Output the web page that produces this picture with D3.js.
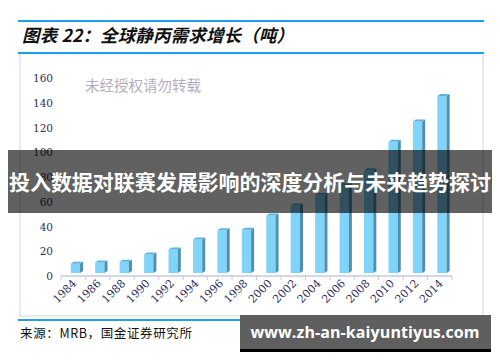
<!DOCTYPE html>
<html>
<head>
<meta charset="utf-8">
<script src="https://cdn.jsdelivr.net/npm/d3@7"></script>
<style>
  body { margin: 0; background: #fff; }
  svg { display: block; }
</style>
</head>
<body>
<script>
// chart data
var years = ["1984","1986","1988","1990","1992","1994","1996","1998","2000","2002","2004","2006","2008","2010","2012","2014"];
var demand = [7.5, 8.5, 9, 15, 19, 27, 34.5, 35, 46.5, 54.5, 63, 71, 83, 106, 122.5, 143];
var yTicks = [0, 20, 40, 60, 80, 100, 120, 140, 160];

var svgWidth = 500;
var svgHeight = 362;

var svg = d3.select("body")
    .append("svg")
    .attr("width", svgWidth)
    .attr("height", svgHeight);

// frame and header lines
svg.append("rect")
    .attr("x", 20).attr("y", 53)
    .attr("width", 463).attr("height", 263)
    .attr("fill", "none")
    .attr("stroke", "#d4d4ec")
    .attr("stroke-width", 1);

svg.append("line")
    .attr("x1", 18).attr("x2", 484).attr("y1", 21).attr("y2", 21)
    .attr("stroke", "#1aa3e8").attr("stroke-width", 2);
svg.append("line")
    .attr("x1", 18).attr("x2", 484).attr("y1", 53).attr("y2", 53)
    .attr("stroke", "#1aa3e8").attr("stroke-width", 2);
svg.append("line")
    .attr("x1", 18).attr("x2", 484).attr("y1", 320).attr("y2", 320)
    .attr("stroke", "#1aa3e8").attr("stroke-width", 2);

// title
svg.append("text")
    .attr("x", 22).attr("y", 42)
    .attr("font-family", "'Noto Sans CJK SC', sans-serif")
    .attr("font-weight", "bold")
    .attr("font-style", "italic")
    .attr("font-size", 17.5)
    .attr("textLength", 272)
    .attr("fill", "#111")
    .text("图表 22：全球静丙需求增长（吨）");

// source
svg.append("text")
    .attr("x", 20).attr("y", 338)
    .attr("font-family", "'Noto Sans CJK SC', sans-serif")
    .attr("font-size", 12.5)
    .attr("textLength", 172)
    .attr("fill", "#111")
    .text("来源：MRB，国金证券研究所");

// watermark
svg.append("text")
    .attr("x", 85).attr("y", 91)
    .attr("font-family", "'Noto Sans CJK SC', sans-serif")
    .attr("font-size", 14.5)
    .attr("fill", "#b4aebb")
    .text("未经授权请勿转载");

// scales
var xScale = d3.scaleBand()
    .domain(years)
    .range([61, 452])
    .padding(0);

var yScale = d3.scaleLinear()
    .domain([0, 160])
    .range([276, 78]);

// y labels (no axis line)
svg.append("g")
    .attr("class", "y-labels")
    .selectAll("text")
    .data(yTicks)
    .enter()
    .append("text")
    .attr("x", 53)
    .attr("y", d => yScale(d) + 4)
    .attr("text-anchor", "end")
    .attr("font-family", "'DejaVu Serif', serif")
    .attr("font-size", 10.5)
    .attr("fill", "#2e2e5c")
    .text(d => d);

// x axis line and ticks
var xAxis = svg.append("g").attr("class", "x-axis");
xAxis.append("line")
    .attr("x1", 61).attr("x2", 452)
    .attr("y1", 276).attr("y2", 276)
    .attr("stroke", "#c9c9e3").attr("stroke-width", 1.5);
xAxis.selectAll(".tick")
    .data(years.concat(["end"]))
    .enter()
    .append("line")
    .attr("x1", (d, i) => 61 + i * xScale.step())
    .attr("x2", (d, i) => 61 + i * xScale.step())
    .attr("y1", 276).attr("y2", 280)
    .attr("stroke", "#c9c9e3").attr("stroke-width", 1);

xAxis.selectAll("text")
    .data(years)
    .enter()
    .append("text")
    .attr("transform", d => `translate(${xScale(d) + xScale.bandwidth() / 2 + 4},${284}) rotate(-45)`)
    .attr("text-anchor", "end")
    .attr("font-family", "'DejaVu Serif', serif")
    .attr("font-size", 11)
    .attr("fill", "#2e2e5c")
    .text(d => d);

// 3d-looking bars
var depthX = 3, depthY = 2, lift = 3;
var frontW = xScale.bandwidth() * 0.38;
var bars = svg.append("g").attr("class", "bars")
    .selectAll("g")
    .data(years.map((y, i) => ({ year: y, value: demand[i] })))
    .enter()
    .append("g");

bars.append("rect")
    .attr("x", d => xScale(d.year) + xScale.bandwidth() * 0.4)
    .attr("y", d => yScale(d.value) - lift)
    .attr("width", frontW)
    .attr("height", d => yScale(0) - yScale(d.value))
    .attr("fill", "#80d3f9");

bars.append("path")
    .attr("d", function(d) {
        var x = xScale(d.year) + xScale.bandwidth() * 0.4 + frontW;
        var t = yScale(d.value) - lift, b = yScale(0) - lift;
        return `M${x},${t}L${x + depthX},${t - depthY}L${x + depthX},${b - depthY}L${x},${b}Z`;
    })
    .attr("fill", "#4c8fae");

bars.append("path")
    .attr("d", function(d) {
        var x = xScale(d.year) + xScale.bandwidth() * 0.4;
        var t = yScale(d.value) - lift;
        return `M${x},${t}L${x + depthX},${t - depthY}L${x + frontW + depthX},${t - depthY}L${x + frontW},${t}Z`;
    })
    .attr("fill", "#5eb3d8");

// overlay banners
svg.append("rect")
    .attr("x", 8).attr("y", 150)
    .attr("width", 484).attr("height", 63)
    .attr("fill", "rgba(0,0,0,0.62)");
svg.append("text")
    .attr("x", 250).attr("y", 190)
    .attr("text-anchor", "middle")
    .attr("font-family", "'Noto Sans CJK SC', sans-serif")
    .attr("font-weight", "bold")
    .attr("font-size", 21)
    .attr("textLength", 482)
    .attr("fill", "#fff")
    .text("投入数据对联赛发展影响的深度分析与未来趋势探讨");

svg.append("rect")
    .attr("x", 240).attr("y", 318)
    .attr("width", 251).attr("height", 34)
    .attr("fill", "#000");
svg.append("rect")
    .attr("x", 240).attr("y", 315)
    .attr("width", 251).attr("height", 34)
    .attr("fill", "#5f5f5f");
svg.append("text")
    .attr("x", 365).attr("y", 338)
    .attr("text-anchor", "middle")
    .attr("font-family", "'Open Sans', sans-serif")
    .attr("font-weight", "bold")
    .attr("font-size", 16)
    .attr("textLength", 229)
    .attr("fill", "#fff")
    .text("www.zh-an-kaiyuntiyus.com");
</script>
</body>
</html>
